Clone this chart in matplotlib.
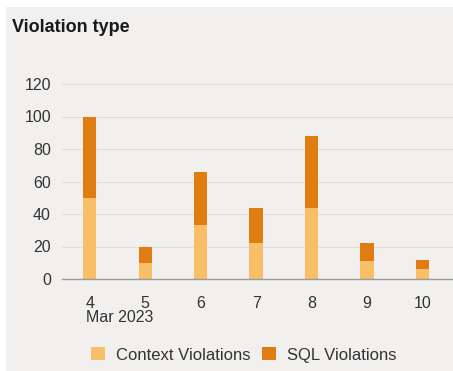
import matplotlib
matplotlib.use("Agg")
import matplotlib.pyplot as plt
from matplotlib.patches import Rectangle

plt.rcParams["font.family"] = ["Liberation Sans", "DejaVu Sans"]

days = ["4", "5", "6", "7", "8", "9", "10"]
context = [50, 10, 33, 22, 44, 11, 6]
sql = [50, 10, 33, 22, 44, 11, 6]
yticks = [0, 20, 40, 60, 80, 100, 120]

W, H = 453, 371
fig = plt.figure(figsize=(W / 100, H / 100), dpi=100)
fig.patch.set_facecolor("white")
bg = "#F1F0EE"
fig.patches.append(Rectangle((6 / W, -0.05), 1.1, 1.05 - 7 / H, transform=fig.transFigure,
                             facecolor=bg, edgecolor="none", zorder=-10))

ax = fig.add_axes([62 / W, 1 - 279 / H, 1 - 62 / W, (279 - 84) / H])
ax.set_facecolor("none")
x = list(range(len(days)))
c1 = "#F8BF68"
c2 = "#E07D12"
ax.bar(x, context, width=0.24, color=c1, label="Context Violations", zorder=3)
ax.bar(x, sql, width=0.24, bottom=context, color=c2, label="SQL Violations", zorder=3)

ax.set_ylim(0, 120)
ax.set_xlim(-0.5, 6.55)
ax.set_yticks(yticks)
ax.set_yticklabels([str(v) for v in yticks], fontsize=11.5, color="#333333")
ax.yaxis.grid(True, color="#E0DEDB", linewidth=0.8, zorder=0)
ax.set_xticks(x)
ax.set_xticklabels(days, fontsize=11.5, color="#333333")
ax.tick_params(axis="y", length=0, pad=8)
ax.tick_params(axis="x", length=0, pad=12)
for s in ["top", "right", "left"]:
    ax.spines[s].set_visible(False)
ax.spines["bottom"].set_color("#9A9A9A")
ax.spines["bottom"].set_linewidth(1.0)
ax.spines["bottom"].set_zorder(4)

fig.text(86 / W, 1 - 318 / H, "Mar 2023", fontsize=11.5, color="#333333", va="center", ha="left")
fig.text(12 / W, 1 - 27 / H, "Violation type", fontsize=13, fontweight="bold", color="#1a1a1a",
         va="center", ha="left")

leg = fig.legend(loc="center", bbox_to_anchor=(244 / W, 1 - 355 / H), ncol=2, frameon=False,
                 fontsize=12, handlelength=0.8, handleheight=0.8, handletextpad=0.7,
                 columnspacing=0.7)
for t in leg.get_texts():
    t.set_color("#333333")

fig.savefig("out.png", dpi=100)
